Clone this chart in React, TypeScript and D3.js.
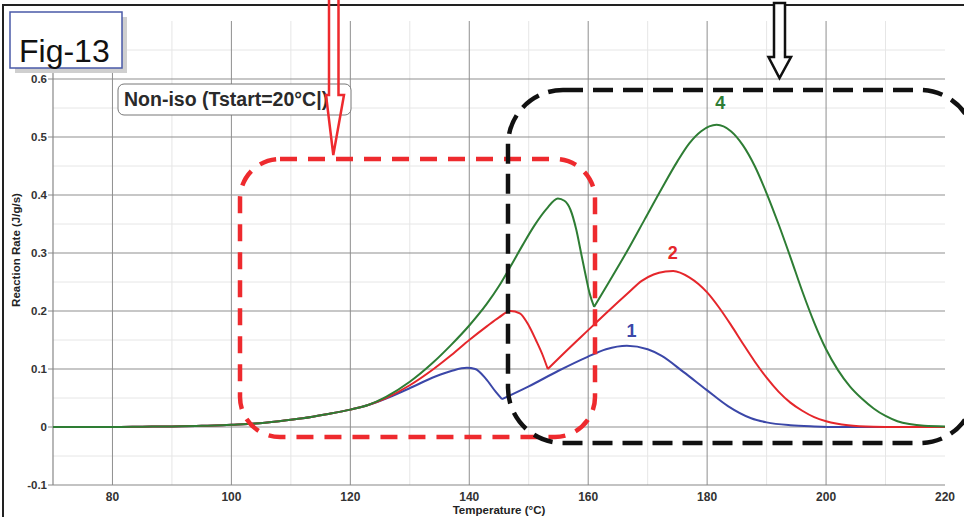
import React from 'react'
import * as d3 from 'd3'

const WIDTH = 964
const HEIGHT = 517

// all three runs coincide until ~123 °C
const baseTemps = [70, 80, 85, 90, 95, 100, 104, 108, 112, 116, 120, 123]
const baseRates = [0, 0, 0.0005, 0.001, 0.002, 0.004, 0.006, 0.010, 0.015, 0.022, 0.030, 0.038]

// run 1 (blue)
const run1Temps = [126, 129.8, 134.3, 137.1, 139.6, 141, 142.8, 144.5, 145.5, 150, 155, 159.9, 163, 166.5, 170, 172.3, 176, 179.9, 183.5, 187.4, 190, 194, 198, 202, 220]
const run1Rates = [0.049, 0.066, 0.087, 0.097, 0.102, 0.100, 0.083, 0.060, 0.048, 0.070, 0.097, 0.121, 0.134, 0.140, 0.134, 0.123, 0.095, 0.064, 0.036, 0.015, 0.008, 0.003, 0.001, 0, 0]

// run 2 (red)
const run2Temps = [126, 130, 134, 137, 140, 143, 145, 146.9, 148.5, 150, 151.2, 152.3, 153.2, 156, 160, 163.4, 166.7, 169, 171, 173, 174.3, 177, 180, 182, 184, 186, 188, 190, 192, 194, 196, 198, 200, 203.7, 208, 212, 220]
const run2Rates = [0.050, 0.072, 0.100, 0.124, 0.150, 0.174, 0.189, 0.200, 0.196, 0.175, 0.150, 0.125, 0.100, 0.128, 0.167, 0.200, 0.231, 0.252, 0.263, 0.268, 0.269, 0.258, 0.232, 0.206, 0.176, 0.144, 0.113, 0.085, 0.061, 0.042, 0.028, 0.017, 0.010, 0.003, 0.0005, 0, 0]

// run 4 (green)
const run4Temps = [126, 130, 134, 137, 140, 143, 145, 147, 149, 151, 153, 154.9, 156, 157, 158, 158.8, 159.5, 160.2, 161, 163.5, 166.7, 169.5, 172.3, 175, 177, 179, 181.6, 184, 186, 188, 190, 192, 194, 196, 198, 200, 202, 204, 206, 208, 210, 212, 214, 216.5, 220]
const run4Rates = [0.052, 0.078, 0.112, 0.142, 0.175, 0.213, 0.243, 0.278, 0.314, 0.348, 0.376, 0.394, 0.390, 0.375, 0.340, 0.300, 0.265, 0.232, 0.207, 0.250, 0.306, 0.358, 0.410, 0.458, 0.489, 0.510, 0.521, 0.510, 0.486, 0.450, 0.403, 0.350, 0.293, 0.234, 0.180, 0.134, 0.098, 0.070, 0.049, 0.032, 0.019, 0.010, 0.005, 0.002, 0.001]

const xTicks = [80, 100, 120, 140, 160, 180, 200, 220]
const xMinorTicks = [90, 110, 130, 150, 170, 190, 210]
const yTicks = [-0.1, 0, 0.1, 0.2, 0.3, 0.4, 0.5, 0.6]
const yMinorTicks = [-0.05, 0.05, 0.15, 0.25, 0.35, 0.45, 0.55, 0.65]

// the sharp minimum of each run, where the curve is not smooth
const series = [
  { name: '1', color: '#3b47a8', temps: run1Temps, rates: run1Rates, cusp: 145.5, labelT: 167.3, labelV: 0.155 },
  { name: '2', color: '#e5262b', temps: run2Temps, rates: run2Rates, cusp: 153.2, labelT: 174.2, labelV: 0.29 },
  { name: '4', color: '#2e7d34', temps: run4Temps, rates: run4Rates, cusp: 161, labelT: 182.2, labelV: 0.548 },
]

const font = "'Liberation Sans', Arial, sans-serif"

export default class App extends React.Component {
  svgRef = React.createRef<SVGSVGElement>()

  componentDidMount() {
    this.draw()
  }

  draw() {
    const svg = d3.select(this.svgRef.current)
    svg.selectAll('*').remove()

    const x = d3.scaleLinear().domain([70, 220]).range([53, 945])
    const y = d3.scaleLinear().domain([-0.1, 0.7]).range([485, 21])

    svg.append('rect').attr('width', WIDTH).attr('height', HEIGHT).attr('fill', '#fff')

    // outer frame
    svg.append('rect')
      .attr('x', 3).attr('y', 5).attr('width', 980).attr('height', 530)
      .attr('fill', 'none').attr('stroke', '#222').attr('stroke-width', 2)

    const g = svg.append('g')

    // minor grid
    g.selectAll('.vminor').data(xMinorTicks).enter().append('line')
      .attr('x1', d => x(d)).attr('x2', d => x(d))
      .attr('y1', y(0.7)).attr('y2', y(-0.1))
      .attr('stroke', '#e6e6e6').attr('stroke-width', 1)
    g.selectAll('.hminor').data(yMinorTicks).enter().append('line')
      .attr('x1', x(70)).attr('x2', x(220))
      .attr('y1', d => y(d)).attr('y2', d => y(d))
      .attr('stroke', '#e6e6e6').attr('stroke-width', 1)

    // major grid
    g.selectAll('.vmajor').data(xTicks.filter(t => t < 220)).enter().append('line')
      .attr('x1', d => x(d)).attr('x2', d => x(d))
      .attr('y1', y(0.7)).attr('y2', y(-0.1))
      .attr('stroke', '#8f8f8f').attr('stroke-width', 1)
    g.selectAll('.hmajor').data(yTicks.filter(t => t > -0.1)).enter().append('line')
      .attr('x1', x(70)).attr('x2', x(220))
      .attr('y1', d => y(d)).attr('y2', d => y(d))
      .attr('stroke', '#8f8f8f').attr('stroke-width', 1)

    // axes
    g.append('line')
      .attr('x1', x(70)).attr('x2', x(70)).attr('y1', y(0.7)).attr('y2', y(-0.1))
      .attr('stroke', '#888').attr('stroke-width', 1.2)
    g.append('line')
      .attr('x1', x(70)).attr('x2', x(220)).attr('y1', y(-0.1)).attr('y2', y(-0.1))
      .attr('stroke', '#888').attr('stroke-width', 1.2)

    g.selectAll('.ytick').data(yTicks).enter().append('line')
      .attr('x1', x(70) - 5).attr('x2', x(70))
      .attr('y1', d => y(d)).attr('y2', d => y(d))
      .attr('stroke', '#888')
    g.selectAll('.ylabel').data(yTicks).enter().append('text')
      .attr('x', x(70) - 6).attr('y', d => y(d)).attr('dy', '0.35em')
      .attr('text-anchor', 'end')
      .attr('font-family', font).attr('font-weight', 'bold').attr('font-size', 11.5)
      .attr('fill', '#333')
      .text(d => String(Math.round(d * 10) / 10))

    g.selectAll('.xlabel').data(xTicks).enter().append('text')
      .attr('x', d => x(d)).attr('y', 501)
      .attr('text-anchor', 'middle')
      .attr('font-family', font).attr('font-weight', 'bold').attr('font-size', 12)
      .attr('fill', '#333')
      .text(d => String(d))

    g.append('text')
      .attr('x', (x(70) + x(220)) / 2).attr('y', 514)
      .attr('text-anchor', 'middle')
      .attr('font-family', font).attr('font-weight', 'bold').attr('font-size', 11.5)
      .attr('fill', '#222')
      .text('Temperature (°C)')

    g.append('text')
      .attr('transform', 'translate(20,250) rotate(-90)')
      .attr('text-anchor', 'middle')
      .attr('font-family', font).attr('font-weight', 'bold').attr('font-size', 11.5)
      .attr('fill', '#222')
      .text('Reaction Rate (J/g/s)')

    // curves; split at the cusp so monotone interpolation keeps the corner sharp
    const line = d3.line<[number, number]>()
      .x(d => x(d[0]))
      .y(d => y(d[1]))
      .curve(d3.curveMonotoneX)

    series.forEach(s => {
      const pts: [number, number][] = baseTemps.map((t, i) => [t, baseRates[i]] as [number, number])
        .concat(s.temps.map((t, i) => [t, s.rates[i]] as [number, number]))
      const before = pts.filter(p => p[0] <= s.cusp)
      const after = pts.filter(p => p[0] >= s.cusp)
      g.append('path')
        .attr('d', (line(before) || '') + (line(after) || ''))
        .attr('fill', 'none')
        .attr('stroke', s.color)
        .attr('stroke-width', 2)
        .attr('stroke-linejoin', 'miter')
      g.append('text')
        .attr('x', x(s.labelT)).attr('y', y(s.labelV))
        .attr('text-anchor', 'middle')
        .attr('font-family', font).attr('font-weight', 'bold').attr('font-size', 18)
        .attr('fill', s.color)
        .text(s.name)
    })

    // dashed highlight boxes
    svg.append('rect')
      .attr('x', 240).attr('y', 159).attr('width', 355).attr('height', 278)
      .attr('rx', 40).attr('ry', 40)
      .attr('fill', 'none').attr('stroke', '#ee2a2e').attr('stroke-width', 4.5)
      .attr('stroke-dasharray', '17 11')
    svg.append('rect')
      .attr('x', 508).attr('y', 90).attr('width', 467).attr('height', 353)
      .attr('rx', 55).attr('ry', 55)
      .attr('fill', 'none').attr('stroke', '#111').attr('stroke-width', 4.5)
      .attr('stroke-dasharray', '20 10')

    // legend box
    svg.append('rect')
      .attr('x', 118).attr('y', 84).attr('width', 233).attr('height', 31)
      .attr('rx', 6).attr('ry', 6)
      .attr('fill', '#fff').attr('stroke', '#777').attr('stroke-width', 1)
    svg.append('text')
      .attr('x', 124).attr('y', 106)
      .attr('font-family', font).attr('font-weight', 'bold').attr('font-size', 19.5)
      .attr('fill', '#2a2a2a')
      .text('Non-iso (Tstart=20°C|)')

    // arrows
    svg.append('path')
      .attr('d', 'M329,-3 L329,95 L326,95 L333.3,155 L344,95 L338.5,95 L338.5,-3')
      .attr('fill', 'none').attr('stroke', '#ee2a2e').attr('stroke-width', 2.5)
      .attr('stroke-linejoin', 'miter')
    svg.append('path')
      .attr('d', 'M774,3 L774,57 L768.5,57 L779.5,78 L791,57 L785,57 L785,3 Z')
      .attr('fill', '#fff').attr('stroke', '#111').attr('stroke-width', 2.5)

    // figure tag
    svg.append('rect')
      .attr('x', 15).attr('y', 17).attr('width', 112).attr('height', 56)
      .attr('fill', '#cfcfcf')
    svg.append('rect')
      .attr('x', 10).attr('y', 12).attr('width', 112).attr('height', 56)
      .attr('fill', '#fff').attr('stroke', '#4a5aa8').attr('stroke-width', 1.5)
    svg.append('text')
      .attr('x', 19).attr('y', 62)
      .attr('font-family', font).attr('font-size', 32)
      .attr('fill', '#111')
      .text('Fig-13')
  }

  render() {
    return (
      <svg
        ref={this.svgRef}
        width={WIDTH}
        height={HEIGHT}
        style={{ position: 'absolute', left: 0, top: 0 }}
      />
    )
  }
}
